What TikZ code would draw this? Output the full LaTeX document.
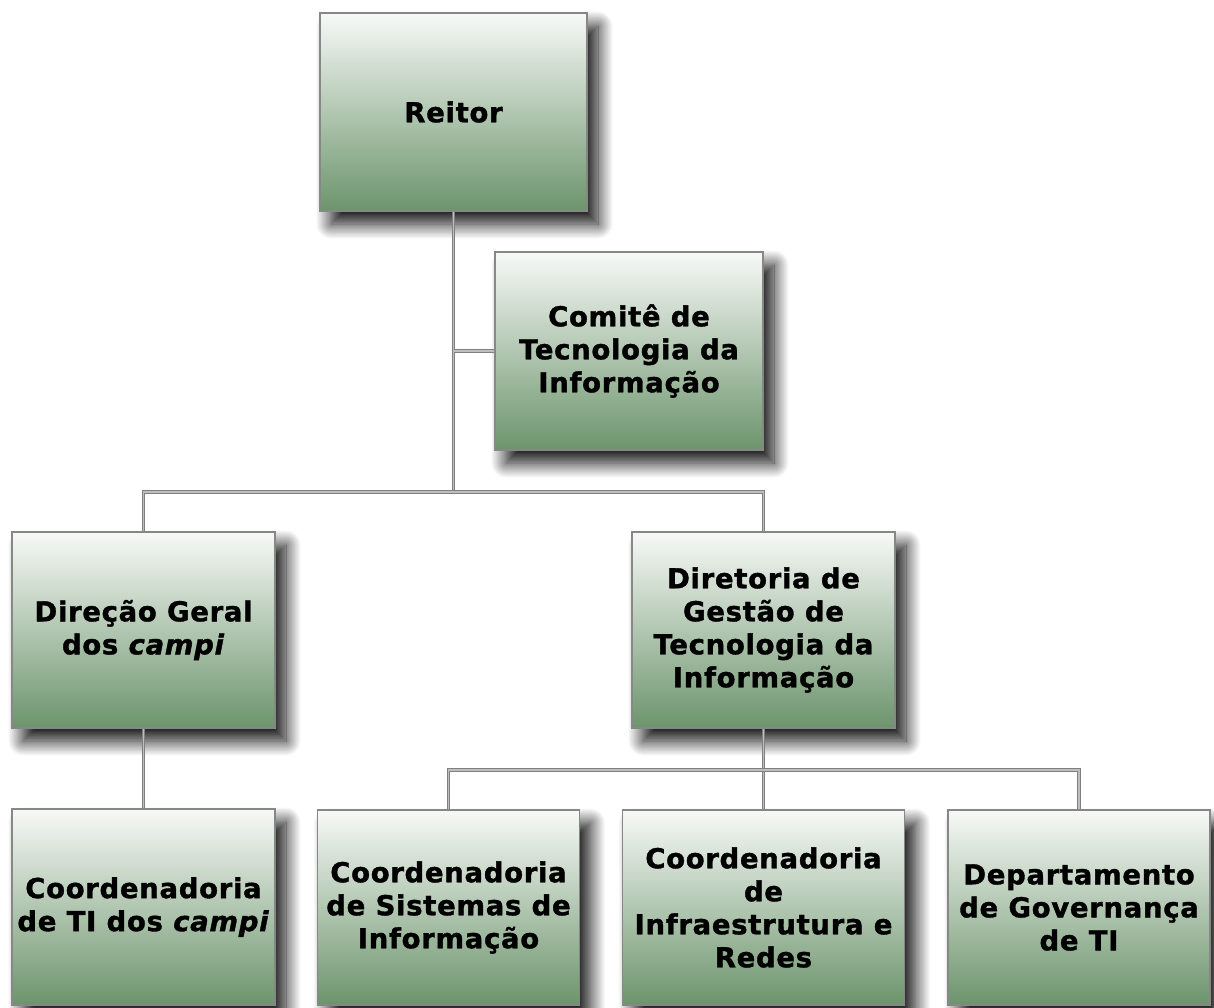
\documentclass[tikz,border=0pt]{standalone}
\usepackage{fontspec}
\setmainfont{DejaVu Sans}[LetterSpace=2.5, BoldFeatures={FakeBold=1.3}, BoldItalicFeatures={FakeBold=1.3}]
\usetikzlibrary{shadows.blur}
\definecolor{boxtop}{RGB}{247,249,247}
\definecolor{boxbot}{RGB}{108,148,108}
\definecolor{boxline}{RGB}{135,135,135}
\definecolor{linedark}{RGB}{128,128,128}
\definecolor{linelight}{RGB}{190,190,190}
\tikzset{
  orgbox/.style={rectangle, draw=boxline, line width=1.3pt,
    top color=boxtop, bottom color=boxbot, inner sep=0pt,
    align=center, font=\fontsize{27.5}{33}\selectfont\bfseries,
    blur shadow={shadow xshift=11pt, shadow yshift=-13pt,
      shadow blur radius=15pt, shadow blur steps=25, shadow opacity=95}},
  conn/.style={draw=linedark, line width=1.1pt, double=linelight,
    double distance=1.4pt}
}
\begin{document}
\begin{tikzpicture}[x=1pt,y=-1pt]
\useasboundingbox (0,0) rectangle (1214,1007);
\node[orgbox, minimum width=267pt, minimum height=198pt] (reitor) at (453.5,112) {Reitor};
\node[orgbox, minimum width=268pt, minimum height=198pt] (comite) at (629,351) {Comitê de\\Tecnologia da\\Informação};
\node[orgbox, minimum width=263pt, minimum height=196pt] (direcao) at (143.5,630) {Direção Geral\\dos \textit{campi}};
\node[orgbox, minimum width=263pt, minimum height=196pt] (diretoria) at (763.5,630) {Diretoria de\\Gestão de\\Tecnologia da\\Informação};
\node[orgbox, minimum width=263pt, minimum height=196pt] (coordti) at (143.5,907) {Coordenadoria\\de TI dos \textit{campi}};
\node[orgbox, minimum width=262pt, minimum height=195pt] (sistemas) at (448.5,907.5) {Coordenadoria\\de Sistemas de\\Informação};
\node[orgbox, minimum width=282pt, minimum height=195pt] (infra) at (763.5,907.5) {Coordenadoria\\de\\Infraestrutura e\\Redes};
\node[orgbox, minimum width=262pt, minimum height=195pt] (depto) at (1079,907.5) {Departamento\\de Governança\\de TI};
\coordinate (j1) at (453.5,492);
\coordinate (jc) at (453.5,351);
\coordinate (j2) at (763.5,770);
\draw[conn] (reitor.south) -- (j1);
\draw[conn] (jc) -- (comite.west);
\draw[conn] (direcao.north) |- (j1) -| (diretoria.north);
\draw[conn] (direcao.south) -- (coordti.north);
\draw[conn] (diretoria.south) -- (infra.north);
\draw[conn] (sistemas.north) |- (j2) -| (depto.north);
\end{tikzpicture}
\end{document}
